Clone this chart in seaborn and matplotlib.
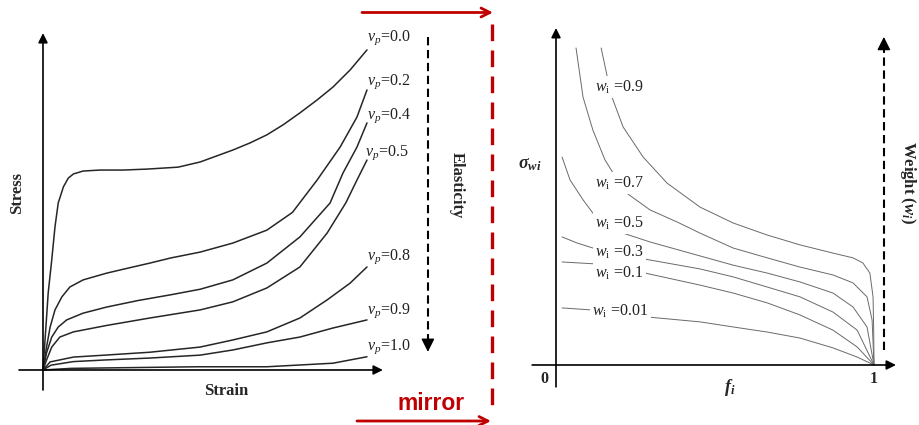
import pandas as pd
import seaborn as sns
import matplotlib
matplotlib.use('Agg')
import matplotlib.pyplot as plt

# ---- left panel: stress-strain curves (both axes in % of drawn span)
vp_labels = ['0.0', '0.2', '0.4', '0.5', '0.8', '0.9', '1.0']
strain_00 = [0, 0.9, 1.6, 2.7, 3.7, 4.7, 6.3, 7.8, 9.4, 12.4, 17.6, 24.7, 32.1, 41.7, 48.5,
             58.6, 63.9, 69.1, 74.1, 79.3, 84.6, 89.5, 94.8, 100]
stress_00 = [0, 13.3, 23.8, 34.1, 44.3, 51.7, 56.7, 59.4, 60.7, 61.6, 61.9, 61.9, 62.2, 62.8, 64.4,
             68.1, 70.3, 72.8, 75.9, 79.6, 83.6, 87.6, 92.9, 99.1]
strain_02 = [0, 1.1, 2.2, 3.7, 5.8, 8.3, 12.4, 19.7, 27.8, 33.0, 39.5, 48.5, 58.6, 69.1, 77.0,
             84.6, 91.7, 96.9, 100]
stress_02 = [0, 7.1, 13.3, 18.6, 22.6, 25.7, 27.9, 30.0, 31.9, 33.1, 34.7, 36.5, 39.3, 43.3, 48.8,
             58.8, 69.0, 78.3, 86.7]
strain_04 = [0, 1.1, 2.7, 4.7, 7.3, 12.4, 19.7, 29.3, 39.5, 48.5, 58.6, 69.1, 79.3, 88.6, 92.6,
             96.9, 100]
stress_04 = [0, 5.3, 10.2, 13.3, 15.5, 17.6, 19.5, 21.5, 23.3, 25.0, 27.9, 33.1, 41.2, 51.7, 61.0,
             69.0, 76.5]
strain_05 = [0, 1.1, 2.7, 5.2, 9.4, 19.7, 33.0, 48.5, 58.6, 69.1, 79.3, 87.7, 93.5, 96.9, 100]
stress_05 = [0, 3.1, 7.1, 10.2, 11.8, 13.8, 16.1, 18.6, 21.1, 25.4, 31.9, 42.4, 51.8, 58.8, 65.0]
strain_08 = [0, 2.2, 9.4, 19.1, 33.0, 48.5, 58.6, 69.1, 79.3, 87.7, 94.8, 100]
stress_08 = [0, 2.5, 4.0, 4.6, 5.5, 7.1, 9.3, 11.8, 16.1, 21.7, 26.9, 31.9]
strain_09 = [0, 2.5, 9.4, 19.1, 33.0, 48.5, 58.6, 69.1, 79.3, 89.5, 100]
stress_09 = [0, 1.5, 2.6, 3.1, 3.7, 4.6, 6.2, 8.4, 10.2, 13.0, 15.5]
strain_10 = [0, 8.6, 47.8, 69.1, 89.5, 100]
stress_10 = [0, 0.5, 1.0, 1.0, 2.1, 4.1]

# ---- right panel: sigma_wi vs f_i for several weights
w_labels = ['0.9', '0.7', '0.5', '0.3', '0.1', '0.01']
f_09 = [0.142, 0.160, 0.176, 0.211, 0.274, 0.349, 0.453, 0.557, 0.664, 0.767, 0.871, 0.934, 0.965, 0.987, 0.997, 0.999, 1.0]
s_09 = [100, 91.5, 84.5, 75.1, 65.6, 57.4, 49.8, 44.8, 41.0, 37.9, 35.3, 33.8, 32.2, 29.0, 21.5, 11.0, 0]
f_07 = [0.063, 0.085, 0.116, 0.154, 0.170, 0.217, 0.296, 0.381, 0.453, 0.557, 0.664, 0.767, 0.871, 0.934, 0.978, 0.994, 1.0]
s_07 = [100, 84.5, 74.1, 64.7, 62.1, 54.6, 48.9, 45.1, 41.6, 36.9, 33.8, 30.9, 28.4, 25.9, 21.5, 14.2, 0]
f_05 = [0.019, 0.044, 0.085, 0.116, 0.211, 0.296, 0.453, 0.557, 0.664, 0.767, 0.871, 0.934, 0.978, 1.0]
s_05 = [65.6, 58.4, 52.1, 47.9, 41.6, 38.8, 34.4, 31.5, 29.0, 26.2, 22.7, 18.3, 12.0, 0]
f_03 = [0.019, 0.066, 0.116, 0.280, 0.453, 0.557, 0.664, 0.767, 0.871, 0.947, 1.0]
s_03 = [40.4, 38.5, 36.9, 33.4, 30.3, 27.8, 24.6, 21.5, 16.7, 11.0, 0]
f_01 = [0.019, 0.123, 0.280, 0.453, 0.557, 0.664, 0.767, 0.871, 0.947, 1.0]
s_01 = [32.5, 31.9, 29.0, 25.2, 22.7, 19.6, 15.8, 11.0, 5.7, 0]
f_001 = [0.019, 0.107, 0.292, 0.453, 0.557, 0.664, 0.767, 0.871, 0.947, 1.0]
s_001 = [18.0, 17.4, 15.1, 13.6, 12.0, 10.4, 8.5, 5.4, 2.5, 0]

left_curves = [(strain_00, stress_00), (strain_02, stress_02), (strain_04, stress_04),
               (strain_05, stress_05), (strain_08, stress_08), (strain_09, stress_09),
               (strain_10, stress_10)]
right_curves = [(f_09, s_09), (f_07, s_07), (f_05, s_05), (f_03, s_03), (f_01, s_01), (f_001, s_001)]

# label anchor points (layout only)
vp_pos = [(100, 102.8), (100, 89.2), (100, 78.6), (99.4, 67.2), (100, 35.0), (100, 18.3), (100, 7.1)]
w_pos = [(0.123, 87.7), (0.123, 57.4), (0.123, 44.8), (0.123, 35.6), (0.123, 29.0), (0.113, 17.0)]

def long_frame(curves, names, xname, yname):
    rows = []
    for (xs, ys), n in zip(curves, names):
        for x, y in zip(xs, ys):
            rows.append({'curve': n, xname: x, yname: y})
    return pd.DataFrame(rows)

left_df = long_frame(left_curves, vp_labels, 'strain', 'stress')
right_df = long_frame(right_curves, w_labels, 'f', 'sigma')

sns.set_theme(style='white')
plt.rcParams['font.family'] = ['Liberation Serif', 'DejaVu Serif']
plt.rcParams['mathtext.fontset'] = 'custom'
plt.rcParams['mathtext.rm'] = 'Liberation Serif'
plt.rcParams['mathtext.it'] = 'Liberation Serif:italic'
plt.rcParams['mathtext.bf'] = 'Liberation Serif:bold'
plt.rcParams['mathtext.bfit'] = 'Liberation Serif:bold:italic'
plt.rcParams['lines.solid_joinstyle'] = 'round'

W, H = 919, 425
fig = plt.figure(figsize=(W / 100, H / 100), dpi=100)
axL = fig.add_axes([0, 0, 480 / W, 1])
axR = fig.add_axes([480 / W, 0, 439 / W, 1])

def head(ax, xy0, xy1, color='black', ms=14, style='-|>', lw=1.2):
    ax.annotate('', xy=xy1, xytext=xy0,
                arrowprops=dict(arrowstyle=style, color=color, lw=lw,
                                mutation_scale=ms, shrinkA=0, shrinkB=0))

# ---------------- left panel
sns.lineplot(data=left_df, x='strain', y='stress', units='curve', estimator=None,
             sort=False, color='#262626', lw=1.1, ax=axL, legend=False)
axL.set_xlim(-13.27, 134.88)
axL.set_ylim(-17.03, 114.55)
axL.axis('off')
head(axL, (0, -6.2), (0, 104.3))
head(axL, (-7.4, 0), (104.9, 0))
for lab, (x, y) in zip(vp_labels, vp_pos):
    axL.text(x, y, r'$v_p$=' + lab, fontsize=11.5, ha='left', va='center', color='#222222')
axL.plot([118.8, 118.8], [103.1, 9.5], color='black', lw=1.5, dashes=(4, 2.2))
head(axL, (118.8, 9.0), (118.8, 5.6), ms=20, lw=1.0)
axL.text(127.8, 57.3, 'Elasticity', rotation=-90, fontsize=12, fontweight='bold',
         ha='center', va='center')
axL.text(-8.0, 54.8, 'Stress', rotation=90, fontsize=12, fontweight='bold',
         ha='center', va='center')
axL.text(56.5, -6.4, 'Strain', fontsize=12, fontweight='bold', ha='center', va='center')

# ---------------- right panel
sns.lineplot(data=right_df, x='f', y='sigma', units='curve', estimator=None,
             sort=False, color='#6a6a6a', lw=0.7, ax=axR, legend=False)
axR.set_xlim(-0.239, 1.1415)
axR.set_ylim(-18.93, 115.14)
axR.axis('off')
head(axR, (0, -6.9), (0, 106.3))
head(axR, (-0.075, 0), (1.069, 0))
for lab, (x, y) in zip(w_labels, w_pos):
    axR.text(x, y, r'$w_{\mathrm{i}}$ =' + lab, fontsize=11.5, ha='left', va='center',
             color='#222222', zorder=5,
             bbox=dict(boxstyle='square,pad=0.15', fc='white', ec='none'))
axR.plot([1.031, 1.031], [4.7, 99.5], color='black', lw=1.5, dashes=(4, 2.2))
head(axR, (1.031, 100.0), (1.031, 103.5), ms=20, lw=1.0)
axR.text(1.107, 57.4, r'Weight ($\mathbfit{w}_{\mathbfit{i}}$)', rotation=-90, fontsize=12,
         fontweight='bold', ha='center', va='center')
axR.text(-0.082, 63.1, r'$\mathbfit{\sigma}_{\mathbfit{wi}}$', fontsize=13, ha='center', va='center')
axR.text(0.547, -7.0, r'$\mathbfit{f}_{\mathbfit{i}}$', fontsize=13, ha='center', va='center')
axR.text(-0.035, -4.3, '0', fontsize=11.5, fontweight='bold', ha='center', va='center')
axR.text(1.0, -4.3, '1', fontsize=11.5, fontweight='bold', ha='center', va='center')

# ---------------- red "mirror" bracket across both panels (pixel frame)
axM = fig.add_axes([0, 0, 1, 1], facecolor='none')
axM.set_xlim(0, W)
axM.set_ylim(H, 0)
axM.axis('off')
red = '#c00000'
head(axM, (362, 12.5), (493, 12.5), color=red, style='->', ms=16, lw=2.0)
head(axM, (357, 421), (491, 421), color=red, style='->', ms=16, lw=2.0)
axM.plot([492, 492], [24, 414], color=red, lw=2.4, dashes=(5, 2.8))
axM.text(431, 403, 'mirror', color=red, fontsize=16.5, fontweight='bold',
         family=['Liberation Sans', 'DejaVu Sans'], ha='center', va='center')

fig.savefig('out.png', dpi=100)
